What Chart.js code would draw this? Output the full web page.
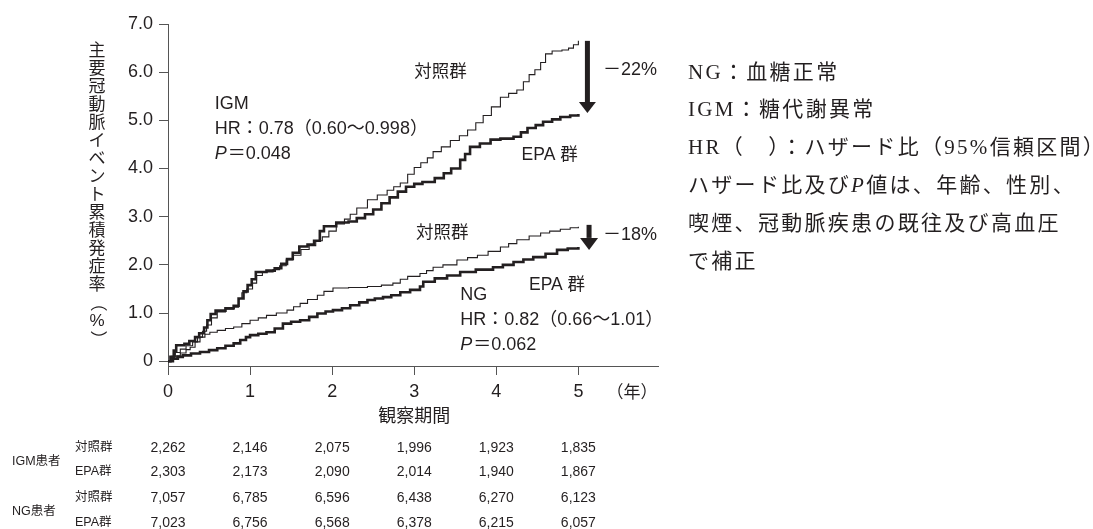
<!DOCTYPE html>
<html lang="ja">
<head>
<meta charset="utf-8">
<title>主要冠動脈イベント累積発症率</title>
<script src="https://cdn.jsdelivr.net/npm/chart.js@4.4.1/dist/chart.umd.min.js"></script>
<style>
  html, body { margin: 0; padding: 0; background: #fff; }
  #wrap { width: 1093px; height: 529px; }
</style>
</head>
<body>
<div id="wrap"><canvas id="myChart" width="1093" height="529"></canvas></div>
<script>
// ticks
const xTicks = [0, 1, 2, 3, 4, 5]
const yTicks = [0, 1, 2, 3, 4, 5, 6, 7]

// cumulative incidence, [year, %]
const igmControl = [[0,0],[0.04,0.1],[0.09,0.18],[0.15,0.25],[0.22,0.32],[0.3,0.4],[0.36,0.5],[0.42,0.62],[0.47,0.75],[0.53,0.9],[0.6,1.02],[0.7,1.08],[0.8,1.12],[0.86,1.3],[0.9,1.42],[0.96,1.5],[1.03,1.62],[1.08,1.78],[1.15,1.85],[1.28,1.9],[1.36,1.98],[1.44,2.1],[1.52,2.2],[1.62,2.32],[1.72,2.4],[1.8,2.5],[1.88,2.58],[1.96,2.7],[2.05,2.85],[2.15,2.95],[2.22,3.05],[2.3,3.18],[2.43,3.35],[2.55,3.45],[2.67,3.55],[2.75,3.62],[2.83,3.7],[2.92,3.88],[3.0,4.02],[3.08,4.12],[3.16,4.22],[3.23,4.35],[3.33,4.45],[3.44,4.58],[3.55,4.68],[3.65,4.8],[3.75,4.95],[3.84,5.1],[3.94,5.28],[4.05,5.48],[4.15,5.56],[4.25,5.63],[4.33,5.8],[4.4,5.95],[4.47,6.05],[4.54,6.2],[4.6,6.38],[4.68,6.44],[4.8,6.46],[4.88,6.5],[4.94,6.57],[5.0,6.65]]
const igmEpa = [[0,0],[0.03,0.09],[0.07,0.22],[0.1,0.33],[0.2,0.36],[0.26,0.42],[0.33,0.5],[0.38,0.58],[0.44,0.7],[0.48,0.85],[0.52,0.98],[0.58,1.05],[0.7,1.1],[0.8,1.15],[0.86,1.3],[0.92,1.45],[0.97,1.58],[1.02,1.7],[1.07,1.85],[1.2,1.88],[1.3,1.93],[1.38,2.02],[1.45,2.12],[1.52,2.25],[1.6,2.38],[1.7,2.42],[1.78,2.5],[1.85,2.7],[1.9,2.8],[2.05,2.88],[2.2,2.9],[2.3,2.97],[2.4,3.05],[2.5,3.15],[2.6,3.28],[2.7,3.4],[2.8,3.52],[2.9,3.62],[3.0,3.68],[3.1,3.72],[3.25,3.8],[3.36,3.9],[3.45,4.0],[3.56,4.18],[3.62,4.3],[3.68,4.45],[3.8,4.52],[3.93,4.6],[4.05,4.62],[4.21,4.66],[4.3,4.75],[4.38,4.84],[4.48,4.9],[4.57,4.97],[4.68,5.02],[4.78,5.07],[4.9,5.1],[5.0,5.13]]
const ngControl = [[0,0],[0.05,0.06],[0.1,0.11],[0.15,0.17],[0.22,0.24],[0.27,0.29],[0.33,0.4],[0.39,0.5],[0.45,0.56],[0.51,0.6],[0.6,0.64],[0.7,0.68],[0.8,0.71],[0.9,0.78],[1.0,0.85],[1.1,0.9],[1.2,0.95],[1.32,1.0],[1.45,1.06],[1.53,1.13],[1.61,1.2],[1.7,1.28],[1.82,1.37],[1.9,1.45],[2.01,1.52],[2.2,1.53],[2.43,1.55],[2.6,1.58],[2.74,1.62],[2.83,1.7],[2.92,1.76],[3.07,1.82],[3.15,1.88],[3.23,1.95],[3.35,2.0],[3.52,2.1],[3.65,2.15],[3.77,2.2],[3.9,2.28],[4.05,2.37],[4.15,2.44],[4.25,2.52],[4.4,2.6],[4.54,2.66],[4.65,2.7],[4.78,2.74],[4.9,2.77],[5.0,2.79]]
const ngEpa = [[0,0],[0.06,0.05],[0.12,0.09],[0.18,0.12],[0.28,0.16],[0.39,0.19],[0.5,0.23],[0.6,0.27],[0.7,0.32],[0.8,0.37],[0.88,0.44],[0.95,0.5],[1.0,0.54],[1.1,0.57],[1.2,0.6],[1.3,0.68],[1.4,0.78],[1.5,0.82],[1.61,0.85],[1.72,0.92],[1.82,0.99],[1.92,1.03],[2.01,1.06],[2.12,1.1],[2.22,1.16],[2.33,1.22],[2.43,1.27],[2.52,1.3],[2.62,1.33],[2.72,1.37],[2.83,1.43],[2.95,1.48],[3.07,1.55],[3.11,1.65],[3.25,1.72],[3.4,1.78],[3.56,1.85],[3.75,1.9],[3.96,1.95],[4.08,2.0],[4.21,2.06],[4.33,2.11],[4.45,2.16],[4.6,2.23],[4.74,2.31],[4.87,2.34],[5.0,2.37]]

// numbers at risk
const igmControlN = [2262, 2146, 2075, 1996, 1923, 1835]
const igmEpaN = [2303, 2173, 2090, 2014, 1940, 1867]
const ngControlN = [7057, 6785, 6596, 6438, 6270, 6123]
const ngEpaN = [7023, 6756, 6568, 6378, 6215, 6057]

const yTitle = '主要冠動脈イベント累積発症率（%）'
const xTitle = '観察期間'
const notes = [
    ['NG：血糖正常'],
    ['IGM：糖代謝異常'],
    ['HR（　）：ハザード比（95%信頼区間）'],
    ['ハザード比及び', {it: 'P'}, '値は、年齢、性別、'],
    ['喫煙、冠動脈疾患の既往及び高血圧'],
    ['で補正']
]

const ink = '#231f20'
const sans = "'Liberation Sans', Arial, 'Noto Sans CJK JP', sans-serif"
const serif = "'Liberation Serif', 'Noto Sans CJK JP', serif"

const toXY = arr => arr.map(d => ({x: d[0], y: d[1]}))

// text placed in data units
const labels = [
    {t: 3.32, v: 6.0, text: '対照群', align: 'center', size: 17.5},
    {t: 4.65, v: 4.28, text: 'EPA 群', align: 'center', size: 17.5},
    {t: 3.34, v: 2.66, text: '対照群', align: 'center', size: 17.5},
    {t: 4.74, v: 1.58, text: 'EPA 群', align: 'center', size: 17.5},
    {t: 0.57, v: 5.34, text: 'IGM', align: 'left', size: 18},
    {t: 0.57, v: 4.82, text: 'HR：0.78（0.60〜0.998）', align: 'left', size: 18},
    {t: 0.57, v: 4.30, text: '＝0.048', italic: 'P', align: 'left', size: 18},
    {t: 3.56, v: 1.37, text: 'NG', align: 'left', size: 18},
    {t: 3.56, v: 0.85, text: 'HR：0.82（0.66〜1.01）', align: 'left', size: 18},
    {t: 3.56, v: 0.33, text: '＝0.062', italic: 'P', align: 'left', size: 18},
    {t: 5.30, v: 6.04, text: '－22%', align: 'left', size: 18},
    {t: 5.30, v: 2.62, text: '－18%', align: 'left', size: 18}
]

const overlay = {
    id: 'overlay',
    afterDraw(chart) {
        const ctx = chart.ctx
        const xs = chart.scales.x, ys = chart.scales.y
        ctx.save()
        ctx.fillStyle = ink
        ctx.textBaseline = 'middle'

        // labels inside the plot
        labels.forEach(l => {
            let px = xs.getPixelForValue(l.t)
            const py = ys.getPixelForValue(l.v)
            ctx.textAlign = 'left'
            if (l.italic) {
                ctx.font = `italic ${l.size}px ${sans}`
                ctx.fillText(l.italic, px, py)
                px += ctx.measureText(l.italic).width + 1
            }
            ctx.font = `${l.size}px ${sans}`
            ctx.textAlign = l.align
            ctx.fillText(l.text, px, py)
        })

        // arrows
        const arrow = (t, v0, v1, shaftW, headW, headH) => {
            const x = xs.getPixelForValue(t)
            const y0 = ys.getPixelForValue(v0), y1 = ys.getPixelForValue(v1)
            ctx.fillRect(x - shaftW / 2, y0, shaftW, y1 - headH - y0)
            ctx.beginPath()
            ctx.moveTo(x - headW / 2, y1 - headH)
            ctx.lineTo(x + headW / 2, y1 - headH)
            ctx.lineTo(x, y1)
            ctx.closePath()
            ctx.fill()
        }
        arrow(5.11, 6.65, 5.15, 5, 17, 11)
        arrow(5.13, 2.83, 2.31, 5, 18, 12)

        // y title, vertical writing
        ctx.font = `17px ${sans}`
        ctx.textAlign = 'center'
        Array.from(yTitle).forEach((ch, i) => {
            const cy = 51 + i * 18
            if (ch === '（' || ch === '）') {
                ctx.save()
                ctx.translate(97, cy)
                ctx.rotate(Math.PI / 2)
                ctx.fillText(ch, 0, 0)
                ctx.restore()
            } else {
                ctx.fillText(ch, 97, cy)
            }
        })

        // x title and unit
        ctx.font = `18px ${sans}`
        ctx.fillText(xTitle, xs.getPixelForValue(3), 417)
        ctx.font = `17px ${sans}`
        ctx.fillText('（年）', 632, 393)

        // numbers at risk
        const rows = [
            [igmControlN, '対照群', 448],
            [igmEpaN, 'EPA群', 472],
            [ngControlN, '対照群', 498],
            [ngEpaN, 'EPA群', 523]
        ]
        rows.forEach(r => {
            ctx.font = `14px ${sans}`
            ctx.textAlign = 'center'
            r[0].forEach((n, i) => ctx.fillText(n.toLocaleString('en-US'), xs.getPixelForValue(xTicks[i]), r[2]))
            ctx.font = `12.5px ${sans}`
            ctx.textAlign = 'left'
            ctx.fillText(r[1], 75, r[2])
        })
        ctx.font = `12.5px ${sans}`
        ctx.fillText('IGM患者', 12, 462)
        ctx.fillText('NG患者', 12, 512)

        // notes on the right
        ctx.letterSpacing = '2.3px'
        notes.forEach((line, i) => {
            let px = 688
            const py = 73 + i * 37.8
            line.forEach(seg => {
                const italic = typeof seg === 'object'
                const s = italic ? seg.it : seg
                ctx.font = `${italic ? 'italic ' : ''}21px ${serif}`
                ctx.fillText(s, px, py)
                px += ctx.measureText(s).width
            })
        })
        ctx.restore()
    }
}

const lineStyle = (thick) => ({
    borderColor: ink,
    borderWidth: thick ? 2.6 : 1.1,
    stepped: true,
    pointRadius: 0,
    fill: false,
    borderJoinStyle: 'miter',
    borderCapStyle: 'butt'
})

Chart.defaults.font.family = sans
Chart.defaults.color = ink

const ctx = document.getElementById('myChart').getContext('2d')
const myChart = new Chart(ctx, {
    type: 'line',
    data: {
        datasets: [
            {label: 'IGM 対照群', data: toXY(igmControl), ...lineStyle(false)},
            {label: 'IGM EPA群', data: toXY(igmEpa), ...lineStyle(true)},
            {label: 'NG 対照群', data: toXY(ngControl), ...lineStyle(false)},
            {label: 'NG EPA群', data: toXY(ngEpa), ...lineStyle(true)}
        ]
    },
    options: {
        responsive: false,
        animation: false,
        layout: {padding: {left: 108, right: 435, top: 24, bottom: 123}},
        plugins: {legend: {display: false}, tooltip: {enabled: false}},
        scales: {
            x: {
                type: 'linear',
                min: 0,
                max: 5.97,
                afterBuildTicks: axis => { axis.ticks = xTicks.map(v => ({value: v})) },
                afterFit: scale => { scale.height = 40 },
                grid: {drawOnChartArea: false, drawTicks: true, tickLength: 9, color: '#555'},
                border: {display: true, color: '#555', width: 1},
                ticks: {font: {size: 18}, color: ink, padding: 6, maxRotation: 0, autoSkip: false}
            },
            y: {
                type: 'linear',
                min: -0.1,
                max: 7,
                afterBuildTicks: axis => { axis.ticks = yTicks.map(v => ({value: v})) },
                afterFit: scale => { scale.width = 60 },
                grid: {drawOnChartArea: false, drawTicks: true, tickLength: 9, color: '#555'},
                border: {display: true, color: '#555', width: 1},
                ticks: {
                    font: {size: 18},
                    color: ink,
                    padding: 6,
                    callback: v => v === 0 ? '0' : v.toFixed(1)
                }
            }
        }
    },
    plugins: [overlay]
})
</script>
</body>
</html>
